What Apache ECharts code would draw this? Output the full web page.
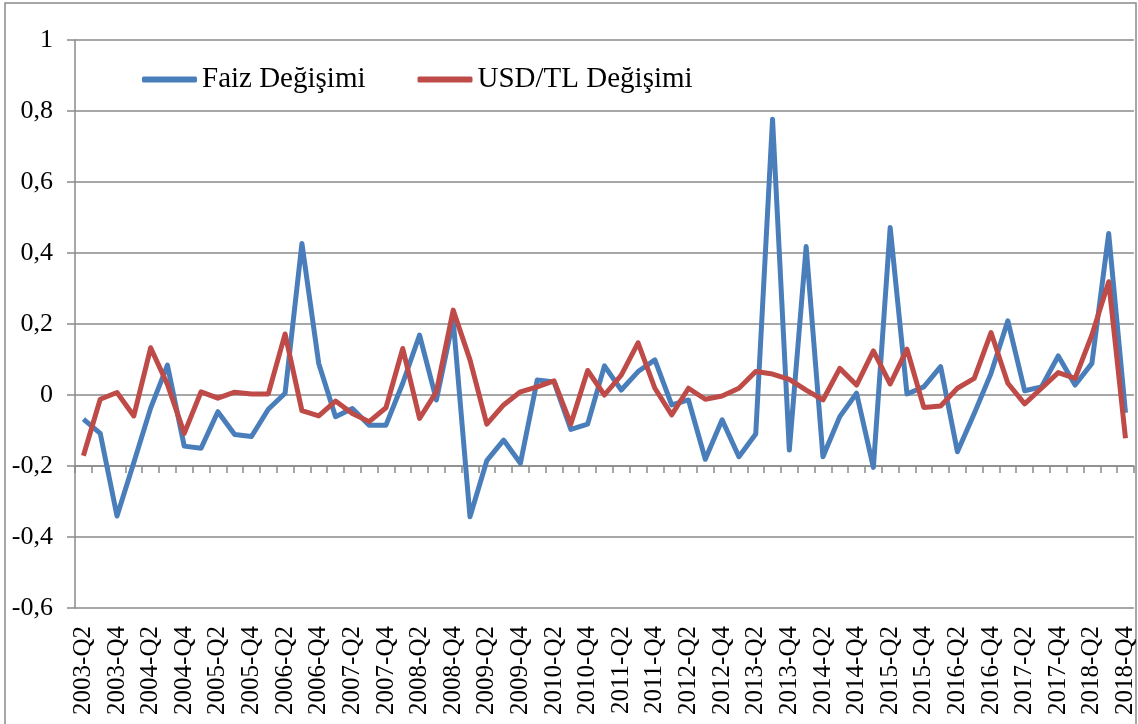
<!DOCTYPE html>
<html>
<head>
<meta charset="utf-8">
<script src="https://cdn.jsdelivr.net/npm/echarts@6/dist/echarts.min.js"></script>
<style>
html,body{margin:0;padding:0;background:#fff;}
#c{width:1138px;height:724px;}
</style>
</head>
<body>
<div id="c"></div>
<script>
var categories = [
 '2003-Q2','2003-Q3','2003-Q4',
 '2004-Q1','2004-Q2','2004-Q3','2004-Q4',
 '2005-Q1','2005-Q2','2005-Q3','2005-Q4',
 '2006-Q1','2006-Q2','2006-Q3','2006-Q4',
 '2007-Q1','2007-Q2','2007-Q3','2007-Q4',
 '2008-Q1','2008-Q2','2008-Q3','2008-Q4',
 '2009-Q1','2009-Q2','2009-Q3','2009-Q4',
 '2010-Q1','2010-Q2','2010-Q3','2010-Q4',
 '2011-Q1','2011-Q2','2011-Q3','2011-Q4',
 '2012-Q1','2012-Q2','2012-Q3','2012-Q4',
 '2013-Q1','2013-Q2','2013-Q3','2013-Q4',
 '2014-Q1','2014-Q2','2014-Q3','2014-Q4',
 '2015-Q1','2015-Q2','2015-Q3','2015-Q4',
 '2016-Q1','2016-Q2','2016-Q3','2016-Q4',
 '2017-Q1','2017-Q2','2017-Q3','2017-Q4',
 '2018-Q1','2018-Q2','2018-Q3','2018-Q4'
];
var faizDegisimi = [
 -0.068,-0.108,-0.341,
 -0.19,-0.037,0.084,-0.144,
 -0.150,-0.047,-0.111,-0.117,
 -0.040,0.005,0.427,0.089,
 -0.061,-0.038,-0.085,-0.085,
 0.033,0.169,-0.014,0.211,
 -0.343,-0.185,-0.127,-0.192,
 0.042,0.037,-0.097,-0.082,
 0.082,0.014,0.066,0.099,
 -0.028,-0.014,-0.181,-0.070,
 -0.174,-0.110,0.777,-0.155,
 0.418,-0.174,-0.061,0.005,
 -0.204,0.472,0.003,0.023,
 0.080,-0.160,-0.052,0.061,
 0.209,0.012,0.023,0.110,
 0.028,0.089,0.455,-0.050
];
var usdTlDegisimi = [
 -0.171,-0.012,0.007,
 -0.059,0.133,0.03,-0.108,
 0.009,-0.009,0.008,0.003,
 0.003,0.172,-0.044,-0.059,
 -0.017,-0.052,-0.075,-0.036,
 0.131,-0.066,0.009,0.239,
 0.099,-0.082,-0.028,0.009,
 0.023,0.040,-0.082,0.069,
 0.000,0.056,0.147,0.019,
 -0.056,0.019,-0.012,-0.003,
 0.019,0.066,0.059,0.044,
 0.014,-0.014,0.075,0.028,
 0.124,0.031,0.129,-0.035,
 -0.031,0.019,0.047,0.176,
 0.033,-0.025,0.019,0.063,
 0.047,0.169,0.319,-0.122
];
var seriesNames = ['Faiz Değişimi','USD/TL Değişimi'];

var serif = '"Liberation Serif","Times New Roman",serif';
var chart = echarts.init(document.getElementById('c'));
chart.setOption({
  animation:false,
  backgroundColor:'#fff',
  graphic:[{type:'rect',shape:{x:5,y:3,width:1131,height:740},style:{fill:'none',stroke:'#8a8a8a',lineWidth:1.5},silent:true,z:-10}],
  legend:{
    left:137, top:60,
    itemWidth:55, itemHeight:6, itemGap:52,
    icon:'roundRect',
    textStyle:{fontFamily:serif,fontSize:29,color:'#000',fontWeight:'normal'},
    data:seriesNames
  },
  grid:{left:75,right:4,top:40,bottom:116,containLabel:false},
  xAxis:[{
    type:'category',data:categories,boundaryGap:true,
    axisLine:{show:false},axisTick:{show:false},
    axisLabel:{interval:1,rotate:90,margin:18,fontFamily:serif,fontSize:25,color:'#000'},
    splitLine:{show:false}
  },{
    type:'category',data:categories,boundaryGap:true,position:'bottom',
    axisLine:{show:true,onZero:true,onZeroAxisIndex:1,lineStyle:{color:'#8a8a8a',width:1.5}},
    axisTick:{show:true,interval:0,length:7,inside:false,lineStyle:{color:'#8a8a8a',width:1.5}},
    axisLabel:{show:false},splitLine:{show:false}
  }],
  yAxis:[{
    type:'value',min:-0.6,max:1,interval:0.2,
    axisLine:{show:true,lineStyle:{color:'#8a8a8a',width:1.5}},
    axisTick:{show:true,length:8,lineStyle:{color:'#8a8a8a',width:1.5}},
    axisLabel:{margin:22,fontFamily:serif,fontSize:26,color:'#000',
      formatter:function(v){return (Math.round(v*10)/10).toString().replace('.',',');}},
    splitLine:{show:true,lineStyle:{color:'#8a8a8a',width:1.5}}
  },{
    type:'value',min:-0.4,max:1.2,show:false,splitLine:{show:false}
  }],
  series:[{
    name:seriesNames[0],type:'line',data:faizDegisimi,xAxisIndex:0,yAxisIndex:0,
    symbol:'none',lineStyle:{width:5,color:'#4A7EBB',join:'round'},itemStyle:{color:'#4A7EBB'}
  },{
    name:seriesNames[1],type:'line',data:usdTlDegisimi,xAxisIndex:0,yAxisIndex:0,
    symbol:'none',lineStyle:{width:5,color:'#BE4B48',join:'round'},itemStyle:{color:'#BE4B48'}
  }]
});
</script>
</body>
</html>
